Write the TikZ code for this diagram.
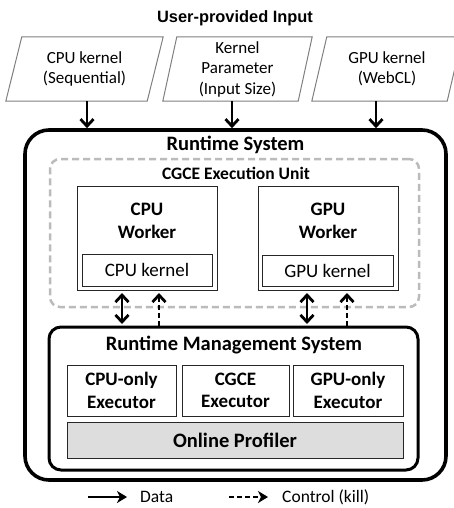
\documentclass[tikz,border=0pt]{standalone}
\usepackage{fontspec}
\setmainfont{Carlito}
\newfontfamily\headfont{Liberation Sans}
\usetikzlibrary{arrows.meta,calc}

\definecolor{edgegray}{HTML}{7F7F7F}
\definecolor{dashgray}{HTML}{BBBBBB}
\definecolor{proffill}{HTML}{DDDDDD}

\tikzset{
  barb/.tip={Straight Barb[length=7pt,width=13pt,line width=2.8pt]},
  inputtext/.style={inner sep=0pt, minimum height=64pt, align=center,
    font=\fontsize{17}{20.5}\selectfont},
  inputedge/.style={draw=edgegray, line width=1pt},
  plainbox/.style={draw=black!85, line width=1pt, inner sep=0pt},
  boldlabel/.style={inner sep=0pt, align=center,
    font=\fontsize{19}{22.5}\selectfont\bfseries},
  kerneltext/.style={font=\fontsize{19}{22}\selectfont},
  flow/.style={line width=2.8pt, -barb},
  flowboth/.style={line width=2.8pt, barb-barb},
  ctrl/.style={line width=2.8pt, dash pattern=on 5pt off 3pt, -barb},
  legendtext/.style={inner sep=0pt, anchor=west, font=\fontsize{17.5}{20}\selectfont},
  legendtip/.tip={Stealth[length=10pt,width=12pt,inset=3pt]},
}

\begin{document}
\begin{tikzpicture}[x=1pt, y=-1pt]
  \useasboundingbox (0,0) rectangle (454,508);

  % heading of the input row
  \node (inhead) at (235,18) {\headfont\fontsize{16.4}{19}\selectfont\bfseries User-provided Input};

  % user-provided inputs (parallelograms)
  \node[inputtext, minimum width=141pt] (p1) at (84.5,69) {CPU kernel\\(Sequential)};
  \node[inputtext, minimum width=135pt] (p2) at (237.5,69) {Kernel\\Parameter\\(Input Size)};
  \node[inputtext, minimum width=135pt] (p3) at (387,69) {GPU kernel\\(WebCL)};
  \draw[inputedge] ([xshift=-8pt]p1.south west) -- ([xshift=-8pt]p1.south east)
    -- ([xshift=8pt]p1.north east) -- ([xshift=8pt]p1.north west) -- cycle;
  \draw[inputedge] ([xshift=-7pt]p2.south west) -- ([xshift=-7pt]p2.south east)
    -- ([xshift=7pt]p2.north east) -- ([xshift=7pt]p2.north west) -- cycle;
  \draw[inputedge] ([xshift=-7.5pt]p3.south west) -- ([xshift=-7.5pt]p3.south east)
    -- ([xshift=7.5pt]p3.north east) -- ([xshift=7.5pt]p3.north west) -- cycle;

  % runtime system
  \node[draw, line width=3.6pt, rounded corners=24pt, minimum width=421pt,
        minimum height=350pt] (rs) at (235.5,305) {};
  \node[inner sep=0pt, font=\fontsize{20.5}{24}\selectfont\bfseries] (rstitle) at (235.5,145) {Runtime System};

  % CGCE execution unit
  \node[draw=dashgray, line width=2.5pt, dash pattern=on 7pt off 4pt,
        rounded corners=10pt, minimum width=369pt, minimum height=148pt] (unit) at (234.5,233) {};
  \node[inner sep=0pt, font=\fontsize{17.5}{20}\selectfont\bfseries] (unittitle) at (236,173) {CGCE Execution Unit};

  % workers
  \node[plainbox, minimum width=140pt, minimum height=104pt] (cpuw) at (147,238) {};
  \node[boldlabel] (cpuwt) at (147,221) {CPU\\Worker};
  \node[plainbox, kerneltext, minimum width=130pt, minimum height=32pt] (cpuk) at (147,270) {CPU kernel};

  \node[plainbox, minimum width=140pt, minimum height=104pt] (gpuw) at (328,238) {};
  \node[boldlabel] (gpuwt) at (328,221) {GPU\\Worker};
  \node[plainbox, kerneltext, minimum width=131pt, minimum height=31pt] (gpuk) at (327.5,270.5) {GPU kernel};

  % runtime management system
  \node[draw, line width=3pt, rounded corners=12pt, minimum width=369pt,
        minimum height=143pt] (rms) at (233.5,398.5) {};
  \node[inner sep=0pt, font=\fontsize{20.5}{24}\selectfont\bfseries] (rmstitle) at (234,345) {Runtime Management System};

  \node[plainbox, boldlabel, minimum width=109pt, minimum height=51pt] (e1) at (121.5,390.5) {CPU-only\\Executor};
  \node[plainbox, boldlabel, minimum width=107pt, minimum height=51pt] (e2) at (235.5,390.5) {CGCE\\Executor};
  \node[plainbox, boldlabel, minimum width=110pt, minimum height=51pt] (e3) at (348,390.5) {GPU-only\\Executor};
  \node[plainbox, fill=proffill, minimum width=336pt, minimum height=36pt,
        font=\fontsize{20.5}{24}\selectfont\bfseries] (prof) at (235,440) {Online Profiler};

  % inputs into the runtime system
  \draw[flow] ([xshift=2.5pt]p1.south) -- ([xshift=2.5pt]p1.south |- rs.north);
  \draw[flow] ([xshift=-5.5pt]p2.south) -- ([xshift=-5.5pt]p2.south |- rs.north);
  \draw[flow] ([xshift=-11pt]p3.south) -- ([xshift=-11pt]p3.south |- rs.north);

  % data and control between workers and the management system
  \draw[flowboth, shorten <=2.5pt, shorten >=1.5pt] ([xshift=-25pt]cpuw.south) -- ([xshift=-25pt]cpuw.south |- rms.north);
  \draw[ctrl, shorten >=2.5pt] ([xshift=12pt]cpuw.south |- rms.north) -- ([xshift=12pt]cpuw.south);
  \draw[flowboth, shorten <=2.5pt, shorten >=1.5pt] ([xshift=-21pt]gpuw.south) -- ([xshift=-21pt]gpuw.south |- rms.north);
  \draw[ctrl, shorten >=2.5pt] ([xshift=19pt]gpuw.south |- rms.north) -- ([xshift=19pt]gpuw.south);

  % legend
  \node[legendtext] (ldata) at (140,497) {Data};
  \node[legendtext] (lctrl) at (282,497) {Control (kill)};
  \coordinate (ld0) at (88,497);
  \coordinate (lc0) at (229,497);
  \draw[line width=2.8pt, -legendtip] (ld0) -- ([xshift=-13pt]ldata.west);
  \draw[line width=2.8pt, dash pattern=on 5pt off 3pt, -legendtip] (lc0) -- ([xshift=-14pt]lctrl.west);
\end{tikzpicture}
\end{document}
